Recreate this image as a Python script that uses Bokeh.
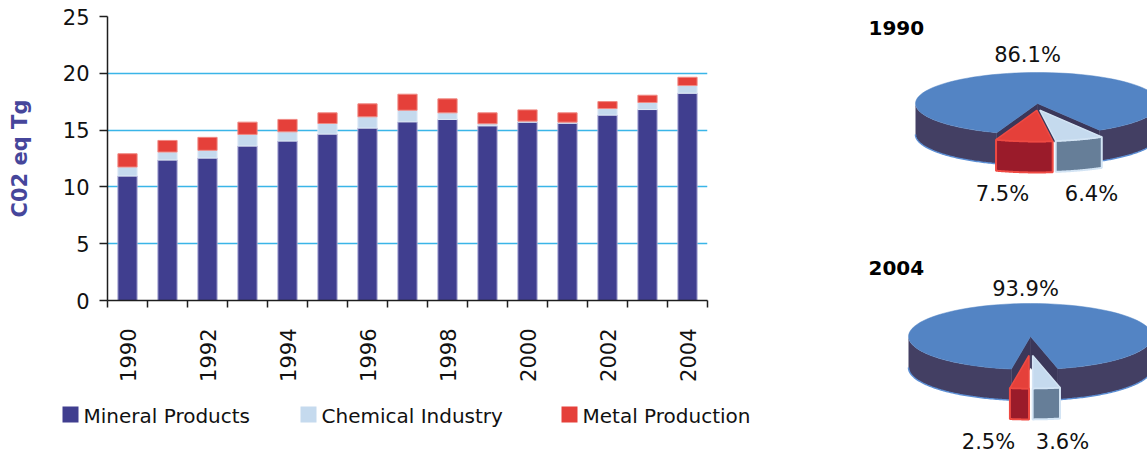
import numpy as np
from bokeh.plotting import figure
from bokeh.models import ColumnDataSource, Range1d, FixedTicker
from bokeh.layouts import row, column
from bokeh.core.properties import value
from bokeh.embed import file_html
from bokeh.resources import INLINE

# ---- data -------------------------------------------------------------
years = list(range(1990, 2005))
mineral = [10.96, 12.37, 12.54, 13.60, 14.04, 14.65, 15.18, 15.73, 15.94,
           15.38, 15.70, 15.61, 16.32, 16.81, 18.25]
chemical = [0.79, 0.70, 0.68, 1.02, 0.81, 0.93, 0.99, 1.02, 0.58,
            0.18, 0.09, 0.09, 0.58, 0.62, 0.67]
metal = [1.17, 1.02, 1.14, 1.08, 1.09, 0.94, 1.14, 1.41, 1.23,
         0.96, 0.99, 0.82, 0.61, 0.64, 0.73]
series = ["Mineral Products", "Chemical Industry", "Metal Production"]
y_ticks = [0, 5, 10, 15, 20, 25]

pie_years = ["1990", "2004"]
share_mineral = [86.1, 93.9]
share_chemical = [6.4, 3.6]
share_metal = [7.5, 2.5]

# ---- styles -----------------------------------------------------------
FONT = "DejaVu Sans"
C_MIN, C_CHEM, C_MET = "#403e8f", "#c5daee", "#e5403a"
GRID = "#3ab5e8"
AXIS = "#1e1e1e"


def blank(width, height, x0, x1, y0, y1):
    """Axis-less canvas whose data units are page pixels."""
    f = figure(width=width, height=height, x_range=Range1d(x0, x1),
               y_range=Range1d(y0, y1), output_backend="svg",
               toolbar_location=None, x_axis_location=None,
               y_axis_location=None, min_border=0, outline_line_color=None)
    f.grid.visible = False
    return f


# ---- stacked bar chart -------------------------------------------------
src = ColumnDataSource(dict(year=years, mineral=mineral,
                            chemical=chemical, metal=metal))

bar = figure(width=860, height=390, x_range=Range1d(1989.5, 2004.5),
             y_range=Range1d(0, 25), output_backend="svg",
             toolbar_location=None, min_border_left=107,
             min_border_right=153, min_border_top=16, min_border_bottom=90,
             outline_line_color=None, background_fill_color="white")

bar.vbar_stack(["mineral", "chemical", "metal"], x="year", width=0.48,
               source=src, fill_color=[C_MIN, C_CHEM, C_MET],
               line_color=["#a9a8d4", "#dde9f5", "#f08a84"], line_width=1)

bar.xgrid.visible = False
bar.ygrid.ticker = FixedTicker(ticks=y_ticks[1:-1])
bar.ygrid.grid_line_color = GRID
bar.ygrid.grid_line_width = 1.6

bar.xaxis.ticker = FixedTicker(ticks=years[::2],
                               minor_ticks=[y - 0.5 for y in years] + [years[-1] + 0.5])
bar.xaxis.major_label_orientation = np.pi / 2
bar.xaxis.major_tick_out = 0
bar.xaxis.major_tick_in = 0
bar.xaxis.minor_tick_out = 7
bar.xaxis.minor_tick_in = 0
bar.xaxis.minor_tick_line_color = AXIS
bar.xaxis.minor_tick_line_width = 1.5
bar.xaxis.major_label_standoff = 21

bar.yaxis.ticker = FixedTicker(ticks=y_ticks)
bar.yaxis.major_tick_out = 8
bar.yaxis.major_tick_in = 0
bar.yaxis.major_tick_line_color = AXIS
bar.yaxis.major_tick_line_width = 1.5
bar.yaxis.major_label_standoff = 10
bar.yaxis.axis_label = "C02 eq Tg"
bar.yaxis.axis_label_text_font = FONT
bar.yaxis.axis_label_text_font_style = "bold"
bar.yaxis.axis_label_text_font_size = "21px"
bar.yaxis.axis_label_text_color = "#46469b"
bar.yaxis.axis_label_standoff = 28

for ax in (bar.xaxis, bar.yaxis):
    ax.axis_line_color = AXIS
    ax.axis_line_width = 1.5
    ax.major_label_text_font = FONT
    ax.major_label_text_font_size = "21px"
    ax.major_label_text_color = "#111111"

# ---- legend strip under the bars --------------------------------------
leg = blank(860, 63, 0, 860, 453, 390)
leg_x = [62, 300, 561]
leg_y = 414
leg.rect(x=[x + 8 for x in leg_x], y=[leg_y] * 3, width=16, height=16,
         fill_color=[C_MIN, C_CHEM, C_MET], line_color=None)
leg.text(x=[x + 21 for x in leg_x], y=[leg_y + 1] * 3, text=series,
         text_font=value(FONT), text_font_size="20px",
         text_baseline="middle", text_align="left", text_color="#111111")

# ---- 3-D exploded pies ------------------------------------------------
pie = blank(287, 453, 860, 1147, 453, 0)


def arc(cx, cy, rx, ry, a0, a1, z=0.0, n=90):
    t = np.radians(np.linspace(a0, a1, n))
    return list(cx + rx * np.cos(t)), list(cy - ry * np.sin(t) + z)


def front_parts(a0, a1):
    parts = []
    for k in range(-1, 3):
        lo, hi = max(a0, 180 + 360 * k), min(a1, 360 + 360 * k)
        if hi > lo:
            parts.append((lo, hi))
    return parts


def side_patch(cx, cy, rx, ry, depth, lo, hi):
    tx, ty = arc(cx, cy, rx, ry, lo, hi)
    bx, by = arc(cx, cy, rx, ry, hi, lo, z=depth)
    return tx + bx, ty + by


def wall_patch(cx, cy, rx, ry, depth, a):
    ex = cx + rx * np.cos(np.radians(a))
    ey = cy - ry * np.sin(np.radians(a))
    return [cx, ex, ex, cx], [cy, ey, ey + depth, cy + depth]


def top_patch(cx, cy, rx, ry, a0, a1):
    ax_, ay_ = arc(cx, cy, rx, ry, a0, a1)
    return [cx] + ax_, [cy] + ay_


def draw_pie(cx, cy, rx, ry, depth, m, c, t, explode, turn):
    deg_c = 360 * c / (m + c + t)
    deg_t = 360 * t / (m + c + t)
    split = 270 + turn
    # big slice wraps round the back, small slices sit at the front
    a0, a1 = split + deg_c, split + 360 - deg_t
    xs, ys = [], []
    for lo, hi in front_parts(a0, a1):
        sx, sy = side_patch(cx, cy, rx, ry, depth, lo, hi)
        xs.append(sx)
        ys.append(sy)
    pie.patches(xs, ys, fill_color="#433f63", line_color=None)
    for lo, hi in front_parts(a0, a1):
        lx, ly = arc(cx, cy, rx, ry, lo, hi, z=depth)
        pie.line(lx, ly, line_color="#5b8ed4", line_width=1.5)
    wx, wy = zip(*[wall_patch(cx, cy, rx, ry, depth, a) for a in (a0, a1)])
    pie.patches(list(wx), list(wy), fill_color="#3b3759", line_color="#3b3759",
                line_width=0.5)
    tx, ty = top_patch(cx, cy, rx, ry, a0, a1)
    pie.patch(tx, ty, fill_color="#5384c4", line_color="#5384c4", line_width=0.5)

    small = [(split - deg_t, split, C_MET, "#9a1b2a", "#ef4a43"),
             (split, split + deg_c, C_CHEM, "#667e98", "#d3e4f4")]
    for b0, b1, top_col, side_col, edge_col in small:
        mid = np.radians((b0 + b1) / 2)
        ox = cx + explode * np.cos(mid)
        oy = cy - explode * np.sin(mid)
        sx, sy = side_patch(ox, oy, rx, ry, depth, b0, b1)
        pie.patch(sx, sy, fill_color=side_col, line_color=edge_col,
                  line_width=2)
        tx, ty = top_patch(ox, oy, rx, ry, b0, b1)
        pie.patch(tx, ty, fill_color=top_col, line_color=edge_col,
                  line_width=1.5)


pie_geom = [dict(cx=1037, cy=103, rx=122, ry=31, depth=31, explode=7, turn=7.5),
            dict(cx=1030, cy=336, rx=122, ry=33, depth=31, explode=19, turn=0)]
title_pos = [(868, 27), (868, 267)]
label_pos = [[(1027, 54), (1091, 193), (1002, 193)],
             [(1025, 288), (1062, 441), (988, 441)]]

for i, g in enumerate(pie_geom):
    draw_pie(g["cx"], g["cy"], g["rx"], g["ry"], g["depth"],
             share_mineral[i], share_chemical[i], share_metal[i],
             g["explode"], g["turn"])
    pie.text(x=[title_pos[i][0]], y=[title_pos[i][1]], text=[pie_years[i]],
             text_font=value(FONT), text_font_size="20px",
             text_font_style="bold", text_baseline="middle",
             text_align="left", text_color="#000000")
    vals = [share_mineral[i], share_chemical[i], share_metal[i]]
    pie.text(x=[p[0] for p in label_pos[i]], y=[p[1] for p in label_pos[i]],
             text=[f"{v:.1f}%" for v in vals], text_font=value(FONT),
             text_font_size="21px", text_baseline="middle",
             text_align="center", text_color="#111111")

# each figure sits in its own box so their frames are laid out independently
layout = row(column(column(bar), column(leg)), column(pie))
open("out.html", "w").write(file_html(layout, INLINE))
